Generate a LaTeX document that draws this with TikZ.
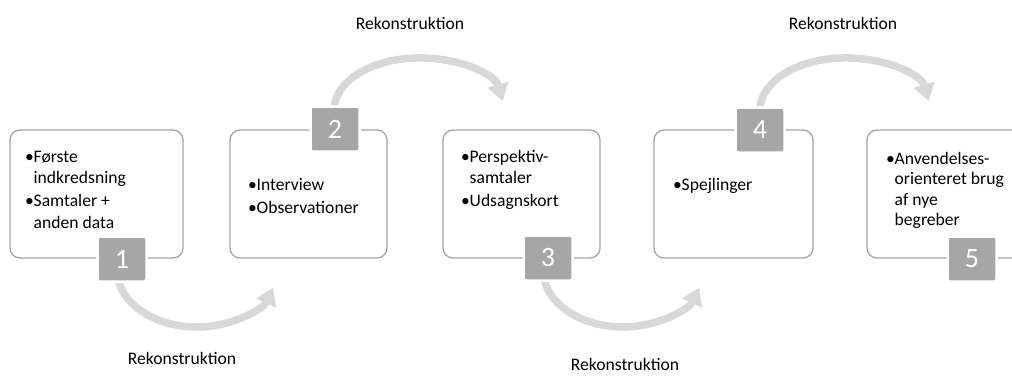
\documentclass[tikz,border=0pt]{standalone}
\usepackage{fontspec}
\setmainfont{Carlito}
\usetikzlibrary{arrows.meta}
\definecolor{boxgray}{RGB}{165,165,165}
\definecolor{numgray}{RGB}{166,166,166}
\definecolor{arcgray}{RGB}{216,216,216}
\newcommand{\itm}{\makebox[8.5pt][l]{•}}
\newcommand{\ind}{\hspace*{8.5pt}}

\begin{document}
\begin{tikzpicture}[x=1pt,y=1pt,
	stepbox/.style={draw=boxgray,line width=1.3pt,rounded corners=10pt,fill=white,inner sep=0pt,minimum height=128pt},
	numbox/.style={fill=numgray,draw=white,line width=2.5pt,rounded corners=2.5pt,minimum width=49pt,minimum height=45pt,inner sep=0pt,text=white,font=\fontsize{28}{28}\selectfont},
	boxtext/.style={anchor=base west,inner sep=0pt,align=left,font=\fontsize{17.6}{21.5}\selectfont},
	lbl/.style={font=\fontsize{17.6}{21}\selectfont,inner sep=0pt},
	flow/.style={draw=arcgray,line width=7.5pt,-{Triangle[length=17pt,width=21pt]}}]
	\clip (0,0) rectangle (1012,-378);
	% the five steps
	\node[stepbox,minimum width=173pt] (b1) at (96.5,-194) {};
	\node[stepbox,minimum width=157pt] (b2) at (308.5,-194) {};
	\node[stepbox,minimum width=157pt] (b3) at (521.5,-194) {};
	\node[stepbox,minimum width=159pt] (b4) at (733.5,-194) {};
	\node[stepbox,minimum width=157pt] (b5) at (945.5,-194) {};
	% texts, placed by the baseline of their last line
	\node[boxtext] (t1) at (25,-228) {\itm Første\\\ind indkredsning\\[1.5pt]\itm Samtaler +\\\ind anden data};
	\node[boxtext] (t2) at (248,-213) {\itm Interview\\[1.5pt]\itm Observationer};
	\node[boxtext] (t3) at (461,-206.5) {\itm Perspektiv-\\\ind samtaler\\[1.5pt]\itm Udsagnskort};
	\node[boxtext] (t4) at (673,-190) {\itm Spejlinger};
	\node[boxtext] (t5) at (886,-225.5) {\itm Anvendelses-\\[-1pt]\ind orienteret brug\\[-1pt]\ind af nye\\[-1pt]\ind begreber};
	% bending arrows
	\coordinate (s1) at (118.2,-279.9);
	\coordinate (s2) at (335.3,-119);
	\coordinate (s3) at (544.2,-279.9);
	\coordinate (s4) at (761.3,-119);
	\draw[flow] (s1) arc[start angle=190,end angle=342,x radius=80,y radius=57];
	\draw[flow] (s2) arc[start angle=190,end angle=10,x radius=85,y radius=52];
	\draw[flow] (s3) arc[start angle=190,end angle=342,x radius=80,y radius=57];
	\draw[flow] (s4) arc[start angle=190,end angle=10,x radius=85,y radius=52];
	% numbers
	\node[numbox] (n1) at (122,-259) {1};
	\node[numbox] (n2) at (335,-129) {2};
	\node[numbox] (n3) at (548,-258) {3};
	\node[numbox] (n4) at (760,-130) {4};
	\node[numbox] (n5) at (972,-259) {5};
	\node[lbl] (r1) at (182,-358) {Rekonstruktion};
	\node[lbl] (r2) at (410,-23) {Rekonstruktion};
	\node[lbl] (r3) at (625,-364) {Rekonstruktion};
	\node[lbl] (r4) at (843,-23) {Rekonstruktion};
\end{tikzpicture}
\end{document}
